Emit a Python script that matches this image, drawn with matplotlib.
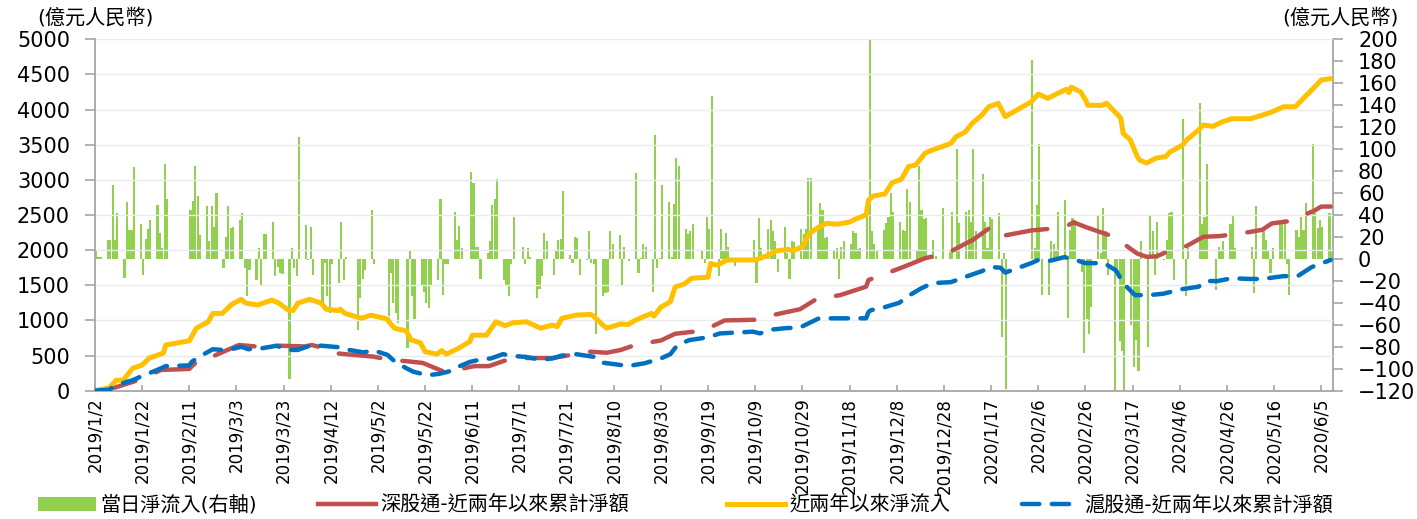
import numpy as np
import pandas as pd
import matplotlib
matplotlib.use("Agg")
import matplotlib.pyplot as plt
import matplotlib.dates as mdates
from matplotlib.patches import Patch
from matplotlib.lines import Line2D

plt.rcParams['font.family'] = ['DejaVu Sans', 'Noto Sans CJK TC']

# ---------------- data ----------------
start_date = '2019-01-02'
end_date = '2020-06-09'
closed_days = ['2019-02-04', '2019-02-05', '2019-02-06', '2019-02-07', '2019-02-08',
               '2019-04-05', '2019-04-19', '2019-04-22', '2019-05-01', '2019-05-02',
               '2019-05-03', '2019-05-13', '2019-06-07', '2019-07-01', '2019-09-13',
               '2019-10-01', '2019-10-02', '2019-10-03', '2019-10-04', '2019-10-07',
               '2019-12-25', '2019-12-26', '2020-01-01', '2020-01-24', '2020-01-27',
               '2020-01-28', '2020-01-29', '2020-01-30', '2020-01-31', '2020-04-06',
               '2020-04-10', '2020-04-13', '2020-04-30', '2020-05-01', '2020-05-04',
               '2020-05-05']

# daily net flow (right axis), one value per trading day, by month
flow_2019_01 = [7, 2, 2, 17, 17, 67, 17, 42, -17, 52, 26, 26, 84, 32, -15, 18, 27, 35, 49, 24, 10, 86]
flow_2019_02 = [55, 45, 53, 85, 57, 22, 48, 16, 48, 29, 60, -8, 20, 48, 28]
flow_2019_03 = [29, 35, 42, -8, -34, -10, -19, 10, -24, 23, 23, 34, -16, -7, -13, -14, -109, 10, -8, -16, 111]
flow_2019_04 = [31, -1, 29, -15, -43, -4, -34, -49, -5, -22, 34, -19, 2, -65, -36, -18, -10, 45, -5]
flow_2019_05 = [-52, -13, -40, -49, -58, -81, 8, -34, -55, -24, -30, -40, -45, -25, -19, 55, -33, -5, -5]
flow_2019_06 = [43, 17, 30, 10, 79, 69, 11, 11, -18, 5, 16, 49, 55, 73, -19, -24, -34, -5, 38]
flow_2019_07 = [11, -5, 10, 2, -36, -27, -16, 24, 16, -15, 8, 17, 18, 62, 4, -4, 20, 19, -15, -1, 25, -4]
flow_2019_08 = [-5, -68, -34, -31, -30, 25, 14, 22, -25, 11, 0, -2, 78, -13, 1, 14, 11, -30, 113, -8, 1, 67]
flow_2019_09 = [52, 2, 50, 92, 85, 27, 23, 25, 32, 8, -4, 38, 27, 148, -16, 27, 8, 24, 11, -6]
flow_2019_10 = [17, -22, 37, 10, 27, 35, 25, 16, -12, 29, 5, -18, 16, 15, 27, 23, 27, 74]
flow_2019_11 = [74, 26, 51, 45, 19, 20, 7, 10, -18, 11, 16, 14, 25, 24, 9, 10, 38, 200, 25, 14, 7]
flow_2019_12 = [26, 33, 38, 60, 43, 34, 26, 25, 64, 52, 7, 85, 45, 36, 37, 17, 3, 46, 6, 43]
flow_2020_01 = [100, 33, 43, 45, 34, 100, 25, 77, 34, 10, 38, 36, 42, -71, 5, -118]
flow_2020_02 = [181, 10, 49, 105, -33, -33, 16, 14, 8, 43, 54, -54, 26, 37, 35, -12, -86, -55, -68, -44]
flow_2020_03 = [40, 5, 46, 25, -15, -119, -10, -75, -84, -119, -60, -98, -74, -102, 16, -80, 39, 25, -15, 34, -1, 17]
flow_2020_04 = [42, 43, -19, 127, -34, 10, 142, 32, 38, 86, 0, -28, 11, 7, 16, 32, 39, 10]
flow_2020_05 = [11, -31, 48, 25, 17, 8, -13, 10, 34, 35, 36, -5, -33, 26, 20, 38, 26, 51]
flow_2020_06 = [105, 42, 28, 35, 29, 42, 7]

# cumulative lines (left axis)
yellow_dates = ['2019-01-02', '2019-01-08', '2019-01-11', '2019-01-14', '2019-01-18', '2019-01-22',
                '2019-01-25', '2019-01-31', '2019-02-01', '2019-02-11', '2019-02-14', '2019-02-19',
                '2019-02-21', '2019-02-25', '2019-03-01', '2019-03-05', '2019-03-07', '2019-03-12',
                '2019-03-18', '2019-03-21', '2019-03-25', '2019-03-27', '2019-03-29', '2019-04-03',
                '2019-04-08', '2019-04-10', '2019-04-15', '2019-04-16', '2019-04-18', '2019-04-25',
                '2019-04-29', '2019-05-06', '2019-05-07', '2019-05-09', '2019-05-14', '2019-05-16',
                '2019-05-20', '2019-05-22', '2019-05-27', '2019-05-29', '2019-05-31', '2019-06-05',
                '2019-06-10', '2019-06-11', '2019-06-17', '2019-06-21', '2019-06-25', '2019-06-28',
                '2019-07-04', '2019-07-10', '2019-07-15', '2019-07-17', '2019-07-19', '2019-07-25',
                '2019-07-31', '2019-08-01', '2019-08-05', '2019-08-07', '2019-08-13', '2019-08-16',
                '2019-08-19', '2019-08-22', '2019-08-26', '2019-08-27', '2019-08-29', '2019-08-30',
                '2019-09-03', '2019-09-05', '2019-09-09', '2019-09-12', '2019-09-19', '2019-09-20',
                '2019-09-23', '2019-09-27', '2019-09-30', '2019-10-09', '2019-10-14', '2019-10-18',
                '2019-10-23', '2019-10-25', '2019-10-29', '2019-11-01', '2019-11-05', '2019-11-08',
                '2019-11-13', '2019-11-18', '2019-11-21', '2019-11-25', '2019-11-26', '2019-11-28',
                '2019-12-03', '2019-12-06', '2019-12-10', '2019-12-13', '2019-12-16', '2019-12-20',
                '2019-12-23', '2019-12-27', '2019-12-31', '2020-01-02', '2020-01-06', '2020-01-09',
                '2020-01-13', '2020-01-16', '2020-01-20', '2020-01-23', '2020-02-03', '2020-02-06',
                '2020-02-10', '2020-02-13', '2020-02-18', '2020-02-19', '2020-02-20', '2020-02-24',
                '2020-02-26', '2020-02-27', '2020-03-04', '2020-03-06', '2020-03-10', '2020-03-12',
                '2020-03-13', '2020-03-16', '2020-03-19', '2020-03-20', '2020-03-23', '2020-03-27',
                '2020-03-31', '2020-04-02', '2020-04-07', '2020-04-09', '2020-04-14', '2020-04-16',
                '2020-04-20', '2020-04-24', '2020-04-28', '2020-05-06', '2020-05-11', '2020-05-15',
                '2020-05-20', '2020-05-25', '2020-05-27', '2020-06-01', '2020-06-05', '2020-06-09']
yellow_vals = [0, 40, 150, 150, 320, 365,
               465, 535, 650, 710, 890, 980,
               1100, 1100, 1230, 1300, 1245, 1220,
               1290, 1245, 1145, 1140, 1245, 1300,
               1245, 1160, 1140, 1160, 1100, 1030,
               1075, 1020, 965, 890, 850, 725,
               680, 555, 520, 570, 520, 600,
               700, 790, 790, 980, 925, 965,
               980, 890, 935, 910, 1030, 1075,
               1085, 1075, 945, 890, 950, 940,
               1000, 1045, 1100, 1060, 1145, 1190,
               1265, 1475, 1520, 1600, 1615, 1810,
               1785, 1860, 1860, 1860, 1920, 1990,
               2010, 1990, 2050, 2240, 2330, 2380,
               2370, 2400, 2450, 2500, 2710, 2770,
               2800, 2960, 3010, 3190, 3210, 3380,
               3425, 3470, 3520, 3610, 3680, 3805,
               3920, 4040, 4090, 3900, 4110, 4220,
               4160, 4210, 4290, 4240, 4320, 4250,
               4140, 4060, 4060, 4090, 3950, 3880,
               3660, 3570, 3330, 3280, 3240, 3310,
               3330, 3400, 3490, 3570, 3710, 3780,
               3760, 3825, 3870, 3870, 3920, 3965,
               4040, 4040, 4110, 4280, 4420, 4440]

red_dates = ['2019-01-02', '2019-01-11', '2019-01-18', '2019-01-22', '2019-01-30', '2019-02-11',
             '2019-02-12', '2019-02-15', '2019-02-19', '2019-03-04', '2019-03-11', '2019-03-15',
             '2019-03-21', '2019-04-01', '2019-04-04', '2019-04-08', '2019-04-09', '2019-04-12',
             '2019-04-18', '2019-04-30', '2019-05-07', '2019-05-14', '2019-05-21', '2019-05-30',
             '2019-06-06', '2019-06-12', '2019-06-18', '2019-06-28', '2019-07-08', '2019-07-15',
             '2019-07-31', '2019-08-07', '2019-08-13', '2019-08-19', '2019-08-30', '2019-09-05',
             '2019-09-17', '2019-09-26', '2019-10-10', '2019-10-17', '2019-10-28', '2019-11-04',
             '2019-11-14', '2019-11-25', '2019-11-26', '2019-12-10', '2019-12-20', '2019-12-30',
             '2020-01-06', '2020-01-09', '2020-01-17', '2020-01-20', '2020-01-23', '2020-02-03',
             '2020-02-13', '2020-02-19', '2020-02-21', '2020-02-26', '2020-03-03', '2020-03-10',
             '2020-03-13', '2020-03-19', '2020-03-23', '2020-03-27', '2020-04-03', '2020-04-09',
             '2020-04-16', '2020-04-23', '2020-05-06', '2020-05-11', '2020-05-15', '2020-05-22',
             '2020-06-02', '2020-06-05', '2020-06-09']
red_vals = [0, 50, 125, 170, 295, 310,
            345, 440, 460, 650, 630, 620,
            640, 630, 650, 615, 600, 540,
            520, 485, 440, 420, 395, 270,
            310, 350, 350, 465, 465, 465,
            555, 540, 580, 650, 715, 810,
            855, 1000, 1010, 1080, 1160, 1305,
            1360, 1480, 1575, 1750, 1885, 1965,
            2090, 2140, 2330, 2330, 2210, 2280,
            2310, 2360, 2395, 2330, 2260, 2180,
            2095, 1950, 1905, 1910, 2010, 2060,
            2190, 2200, 2260, 2290, 2380, 2410,
            2560, 2620, 2620]

blue_dates = ['2019-01-02', '2019-01-08', '2019-01-11', '2019-01-18', '2019-01-22', '2019-01-28',
              '2019-02-01', '2019-02-11', '2019-02-12', '2019-02-15', '2019-02-21', '2019-02-27',
              '2019-03-05', '2019-03-08', '2019-03-14', '2019-03-20', '2019-03-25', '2019-03-29',
              '2019-04-03', '2019-04-08', '2019-04-15', '2019-04-18', '2019-04-26', '2019-04-30',
              '2019-05-06', '2019-05-09', '2019-05-14', '2019-05-17', '2019-05-23', '2019-05-28',
              '2019-06-03', '2019-06-05', '2019-06-10', '2019-06-14', '2019-06-19', '2019-06-24',
              '2019-06-28', '2019-07-04', '2019-07-10', '2019-07-15', '2019-07-19', '2019-07-25',
              '2019-07-31', '2019-08-02', '2019-08-05', '2019-08-12', '2019-08-16', '2019-08-23',
              '2019-08-30', '2019-09-03', '2019-09-06', '2019-09-11', '2019-09-19', '2019-09-24',
              '2019-10-08', '2019-10-11', '2019-10-16', '2019-10-22', '2019-10-28', '2019-11-01',
              '2019-11-05', '2019-11-12', '2019-11-19', '2019-11-25', '2019-11-26', '2019-11-27',
              '2019-12-03', '2019-12-09', '2019-12-13', '2019-12-18', '2019-12-23', '2019-12-31',
              '2020-01-07', '2020-01-13', '2020-01-17', '2020-01-21', '2020-01-23', '2020-02-03',
              '2020-02-06', '2020-02-10', '2020-02-17', '2020-02-20', '2020-02-26', '2020-03-05',
              '2020-03-10', '2020-03-13', '2020-03-18', '2020-03-24', '2020-03-30', '2020-04-07',
              '2020-04-14', '2020-04-17', '2020-04-22', '2020-04-28', '2020-05-06', '2020-05-11',
              '2020-05-20', '2020-05-26', '2020-06-01', '2020-06-09']
blue_vals = [0, 15, 80, 150, 210, 290,
             350, 360, 410, 480, 590, 575,
             625, 590, 605, 640, 580, 580,
             640, 640, 620, 590, 545, 575,
             510, 420, 320, 270, 220, 240,
             290, 340, 410, 440, 460, 520,
             495, 480, 440, 460, 500, 520,
             490, 480, 400, 370, 350, 390,
             460, 520, 650, 720, 760, 815,
             840, 815, 870, 890, 900, 965,
             1030, 1030, 1030, 1030, 1120, 1145,
             1190, 1250, 1350, 1450, 1530, 1545,
             1630, 1700, 1760, 1750, 1680, 1815,
             1860, 1840, 1900, 1880, 1815, 1815,
             1710, 1530, 1360, 1360, 1380, 1445,
             1480, 1560, 1560, 1600, 1590, 1590,
             1630, 1630, 1760, 1860]

unit_label = '(億元人民幣)'
series_labels = ['當日淨流入(右軸)', '深股通-近兩年以來累計淨額', '近兩年以來淨流入', '滬股通-近兩年以來累計淨額']

# ---------------- assemble ----------------
monthly = [flow_2019_01, flow_2019_02, flow_2019_03, flow_2019_04, flow_2019_05, flow_2019_06,
           flow_2019_07, flow_2019_08, flow_2019_09, flow_2019_10, flow_2019_11, flow_2019_12,
           flow_2020_01, flow_2020_02, flow_2020_03, flow_2020_04, flow_2020_05, flow_2020_06]
trade_days = pd.bdate_range(start_date, end_date)
trade_days = trade_days[~trade_days.isin(pd.to_datetime(closed_days))]
counts = trade_days.to_period('M').value_counts().sort_index()
for (per, n), lst in zip(counts.items(), monthly):
    if n != len(lst):
        raise ValueError(f'{per}: {n} days vs {len(lst)} values')
daily_flow = np.concatenate(monthly)
assert len(yellow_dates) == len(yellow_vals)
assert len(red_dates) == len(red_vals)
assert len(blue_dates) == len(blue_vals)

GREEN = '#92D050'
RED = '#C0504D'
YELLOW = '#FFC000'
BLUE = '#0070C0'
SPINE = '#A6A6A6'

fig = plt.figure(figsize=(14.17, 5.19), dpi=100)
ax = fig.add_axes([0.06704, 0.2472, 0.8737, 0.6771])
ax2 = ax.twinx()
ax.set_zorder(ax2.get_zorder() + 1)
ax.patch.set_visible(False)

bar_x = mdates.date2num(trade_days + pd.Timedelta(hours=12))
ax2.bar(bar_x, daily_flow, width=0.9, color=GREEN, linewidth=0, align='center')

lw_red = 3.2
lw_blue = 3.2
ax.plot(mdates.date2num(pd.to_datetime(red_dates)), red_vals, color=RED, lw=lw_red,
        dashes=(9.4, 5.0), dash_capstyle='round', solid_joinstyle='round', zorder=2)
ax.plot(mdates.date2num(pd.to_datetime(yellow_dates)), yellow_vals, color=YELLOW, lw=3.6,
        solid_capstyle='round', solid_joinstyle='round', zorder=3)
ax.plot(mdates.date2num(pd.to_datetime(blue_dates)), blue_vals, color=BLUE, lw=lw_blue,
        dashes=(3.9, 2.8), dash_capstyle='round', solid_joinstyle='round', zorder=4)

x0 = mdates.date2num(pd.Timestamp(start_date))
x1 = mdates.date2num(pd.Timestamp(end_date) + pd.Timedelta(days=1))
ax.set_xlim(x0, x1)
ax.set_ylim(0, 5000)
ax.set_yticks(np.arange(0, 5001, 500))
ax2.set_ylim(-120, 200)
ax2.set_yticks(np.arange(-120, 201, 20))

tick_dates = pd.date_range(start_date, end_date, freq='20D')
ax.set_xticks(mdates.date2num(tick_dates))
ax.set_xticklabels([f'{d.year}/{d.month}/{d.day}' for d in tick_dates], rotation=90)

ax.grid(axis='y', color='#EBEBEB', lw=1.0)
ax.grid(axis='x', visible=False)

for a in (ax, ax2):
    a.spines['top'].set_visible(False)
ax.spines['right'].set_visible(False)
ax2.spines['left'].set_visible(False)
ax2.spines['bottom'].set_visible(False)
for s in (ax.spines['left'], ax.spines['bottom'], ax2.spines['right']):
    s.set_color(SPINE)
    s.set_linewidth(1.3)

ax.tick_params(axis='y', direction='out', length=7, width=1.2, color=SPINE, labelsize=15, pad=11)
ax2.tick_params(axis='y', direction='out', length=7, width=1.2, color=SPINE, labelsize=15, pad=11)
ax.tick_params(axis='x', direction='in', length=4, width=1.2, color=SPINE, labelsize=12, pad=5)

fig.text(95 / 1417, 1 - 18 / 519, unit_label, ha='center', va='center', fontsize=14.5)
fig.text(1340 / 1417, 1 - 18 / 519, unit_label, ha='center', va='center', fontsize=14.5)

handles = [Patch(facecolor=GREEN, edgecolor='none'),
           Line2D([], [], color=RED, lw=lw_red),
           Line2D([], [], color=YELLOW, lw=3.6),
           Line2D([], [], color=BLUE, lw=lw_blue, dashes=(3.9, 2.8), dash_capstyle='round')]
legend_x = [38, 318, 727, 1022]
for h, lab, lx in zip(handles, series_labels, legend_x):
    fig.legend([h], [lab], loc='center left', bbox_to_anchor=(lx / 1417, 1 - 505 / 519),
               frameon=False, fontsize=14.5, handlelength=2.9, handletextpad=0.2,
               borderpad=0, borderaxespad=0)

fig.savefig('out.png', dpi=100)
